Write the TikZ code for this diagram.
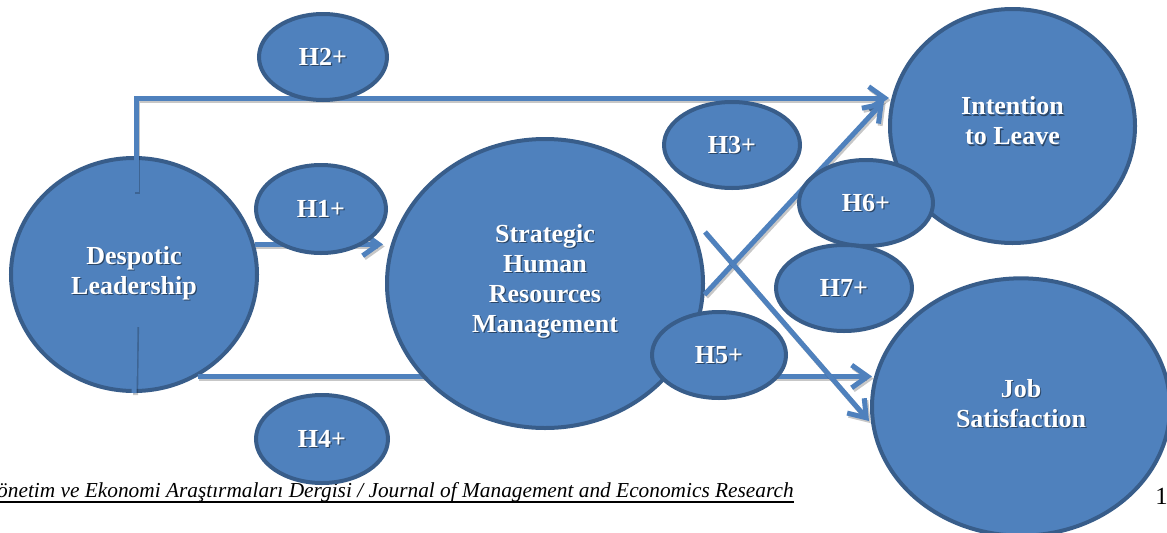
\documentclass[tikz,border=0pt]{standalone}
\usepackage{fontspec}
\setmainfont{Liberation Serif}
\usetikzlibrary{shapes.geometric,arrows.meta}
\definecolor{bfill}{HTML}{4F81BD}
\definecolor{bline}{HTML}{385D8A}
\definecolor{conc}{HTML}{4F81BD}
\tikzset{
  bub/.style={ellipse, draw=bline, fill=bfill, line width=3pt, inner sep=0pt},
  txt/.style={text=white, font=\bfseries\fontsize{19.5pt}{22.5pt}\selectfont, align=center, inner sep=0pt},
  txtsh/.style={txt, text=black, text opacity=0.45},
  conn/.style={draw=conc, line width=3.75pt,
    preaction={draw=black, draw opacity=0.22, line width=3.75pt, transform canvas={shift={(1.2pt,-1.6pt)}}}},
  arr/.style={conn, -{Straight Barb[length=12pt,width=17pt]}},
}
\newcommand{\bub}[6]{%
  \node[bub, minimum width=#3pt, minimum height=#4pt] (#1) at (#2) {};
  \node[txtsh, yshift=#6pt] (#1-s) at ([shift={(0.9pt,-0.9pt)}]#1.center) {#5};
  \node[txt, yshift=#6pt] (#1-t) at (#1.center) {#5};
}
\begin{document}
\begin{tikzpicture}[x=0.75pt,y=-0.75pt]
\useasboundingbox (0,0) rectangle (1167,532);

% footer
\node[anchor=base east, font=\itshape\fontsize{16pt}{18pt}\selectfont, inner sep=0pt] (foot) at (794,497)
  {Yönetim ve Ekonomi Araştırmaları Dergisi / Journal of Management and Economics Research};
\draw[line width=1.3pt] ([yshift=-3.6pt]foot.base west) -- ([yshift=-3.6pt]foot.base east);
\node[anchor=base west, font=\fontsize{18.5pt}{20pt}\selectfont, inner sep=0pt] (pnum) at (1155,504) {1};

% large constructs
\bub{dl}{134,274.5}{184.5}{174.75}{Despotic\\Leadership}{1}
\bub{itl}{1012.5,126}{183.75}{175.5}{Intention\\to Leave}{3.75}
\bub{jsf}{1021,407}{223.5}{193}{Job\\Satisfaction}{2.5}

% named connector ends
\coordinate (c1) at (136,192);
\coordinate (c2) at (135,325);
\coordinate (t1) at (383,245);
\coordinate (t2) at (889,98);
\coordinate (t3) at (884,101);
\coordinate (t4) at (872,375);
\coordinate (s4) at (705,232);
\coordinate (t5) at (869,421);

% connectors running behind SHRM
\draw[arr] (c1) |- (t2);
\draw[conn] (c2) -- (dl.south);
\draw[arr] (dl.14) -- (dl.14 -| t1);
\draw[arr] (dl.-58) -- (dl.-58 -| t4);

\bub{shrm}{545,283.5}{237}{216.75}{Strategic\\Human\\Resources\\Management}{1.5}

% crossing diagonals
\draw[arr] (shrm.-4) -- (t3);
\draw[arr] (s4) -- (t5);

% hypothesis bubbles
\bub{h2}{323,57}{96}{64.5}{H2+}{0}
\bub{h1}{321,209}{97.5}{66}{H1+}{0}
\bub{h4}{322,439}{99}{66}{H4+}{0}
\bub{h3}{732,145}{102}{64.5}{H3+}{0}
\bub{h6}{866,203}{100.5}{64.5}{H6+}{0}
\bub{h7}{844,288}{102}{64.5}{H7+}{0}
\bub{h5}{719,355}{100.5}{64.5}{H5+}{0}
\end{tikzpicture}
\end{document}
